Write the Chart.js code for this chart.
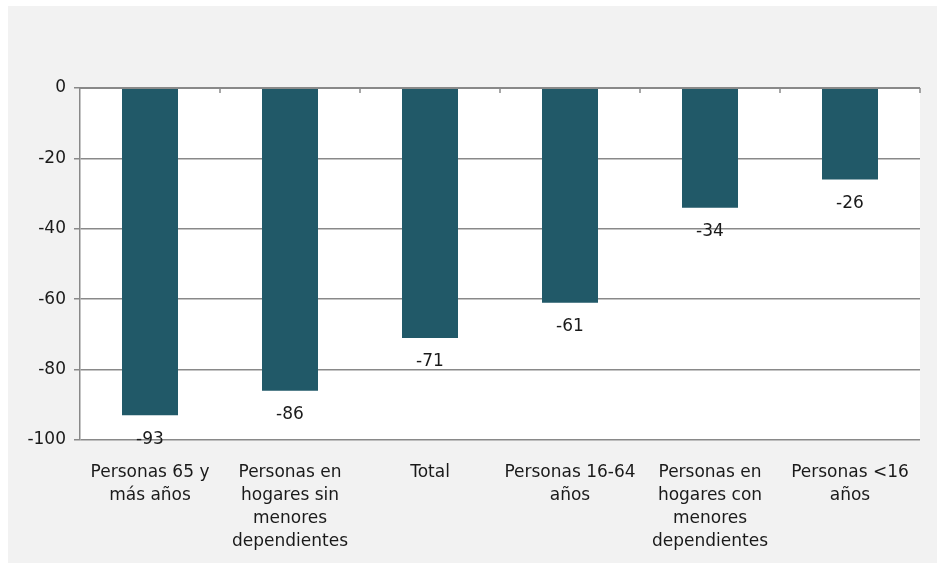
<!DOCTYPE html>
<html>
<head>
<meta charset="utf-8">
<script src="https://cdn.jsdelivr.net/npm/chart.js@4"></script>
<style>
  html, body { margin: 0; padding: 0; background: #ffffff; }
  #wrap { width: 937px; height: 563px; }
</style>
</head>
<body>
<div id="wrap"><canvas id="grafico" width="937" height="563"></canvas></div>
<script>
// Categorías (etiquetas del eje X, en varias líneas)
const categorias = [
    ['Personas 65 y', 'más años'],
    ['Personas en', 'hogares sin', 'menores', 'dependientes'],
    ['Total'],
    ['Personas 16-64', 'años'],
    ['Personas en', 'hogares con', 'menores', 'dependientes'],
    ['Personas <16', 'años']
];
const valores = [-93, -86, -71, -61, -34, -26];
const ticksY = [0, -20, -40, -60, -80, -100];

const fuente = "'DejaVu Sans', sans-serif";
const colorTexto = '#1a1a1a';
const colorBarra = '#215968';
const colorRejilla = '#898989';

// Fondo gris del gráfico y área de trazado blanca
const fondo = {
    id: 'fondo',
    beforeDraw(chart) {
        const ctx = chart.ctx;
        const a = chart.chartArea;
        ctx.save();
        ctx.fillStyle = '#ffffff';
        ctx.fillRect(0, 0, chart.width, chart.height);
        ctx.fillStyle = '#f2f2f2';
        ctx.fillRect(8, 6, chart.width - 8, chart.height - 6);
        ctx.fillStyle = '#ffffff';
        ctx.fillRect(a.left, a.top, a.right - a.left, a.bottom - a.top);
        ctx.restore();
    }
};

// Marcas de categoría bajo la línea del cero (entre categorías y en el borde derecho)
const marcasCero = {
    id: 'marcasCero',
    afterDatasetsDraw(chart) {
        const ctx = chart.ctx;
        const x = chart.scales.x;
        const y0 = chart.scales.y.getPixelForValue(0);
        const paso = x.getPixelForValue(1) - x.getPixelForValue(0);
        ctx.save();
        ctx.strokeStyle = colorRejilla;
        ctx.lineWidth = 1.5;
        for (let i = 1; i <= categorias.length; i++) {
            const px = Math.round(x.getPixelForValue(i - 1) + paso / 2);
            ctx.beginPath();
            ctx.moveTo(px, y0);
            ctx.lineTo(px, y0 + 5);
            ctx.stroke();
        }
        ctx.beginPath();
        ctx.moveTo(x.left, y0);
        ctx.lineTo(x.right, y0);
        ctx.lineWidth = 2;
        ctx.stroke();
        ctx.restore();
    }
};

// Etiquetas de valor bajo cada barra
const etiquetas = {
    id: 'etiquetas',
    afterDatasetsDraw(chart) {
        const ctx = chart.ctx;
        const meta = chart.getDatasetMeta(0);
        ctx.save();
        ctx.font = '17px ' + fuente;
        ctx.fillStyle = colorTexto;
        ctx.textAlign = 'center';
        ctx.textBaseline = 'middle';
        meta.data.forEach((bar, i) => {
            ctx.fillText(String(valores[i]), bar.x, bar.y + 24);
        });
        ctx.restore();
    }
};

new Chart(document.getElementById('grafico'), {
    type: 'bar',
    data: {
        labels: categorias,
        datasets: [{
            data: valores,
            backgroundColor: colorBarra,
            borderWidth: 0,
            barPercentage: 0.4,
            categoryPercentage: 1
        }]
    },
    options: {
        responsive: false,
        animation: false,
        layout: { padding: { left: 8, top: 88, right: 17, bottom: 0 } },
        plugins: { legend: { display: false }, tooltip: { enabled: false } },
        scales: {
            x: {
                position: 'bottom',
                grid: { display: false },
                border: { display: false },
                ticks: {
                    color: colorTexto,
                    font: { family: fuente, size: 17, lineHeight: 1.36 },
                    padding: 13,
                    maxRotation: 0,
                    autoSkip: false
                },
                afterFit(scale) { scale.height = 123; }
            },
            y: {
                min: -100,
                max: 0,
                afterBuildTicks(scale) {
                    scale.ticks = ticksY.map(v => ({ value: v }));
                },
                grid: {
                    color: colorRejilla,
                    lineWidth: 1.5,
                    tickLength: 6
                },
                border: { color: colorRejilla, width: 1.5 },
                ticks: {
                    color: colorTexto,
                    font: { family: fuente, size: 17 },
                    padding: 8
                },
                afterFit(scale) { scale.width = 72; }
            }
        }
    },
    plugins: [fondo, marcasCero, etiquetas]
});
</script>
</body>
</html>
